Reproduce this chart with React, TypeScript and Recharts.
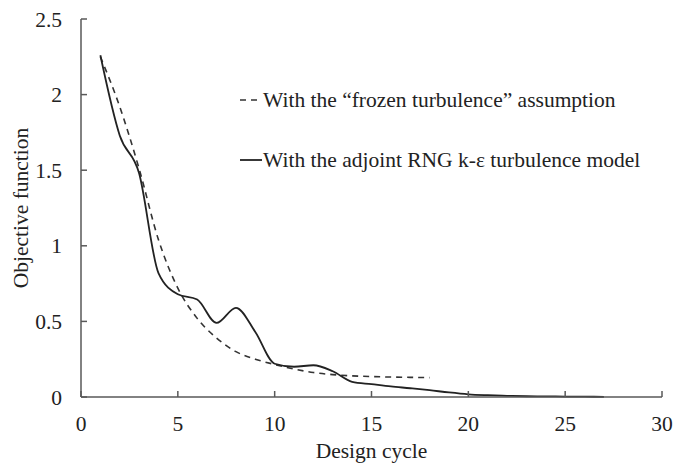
import React from 'react';
import {
  LineChart,
  Line,
  XAxis,
  YAxis,
  Legend,
} from 'recharts';

// design cycle values
const frozenCycles = [1, 2, 3, 4, 5, 6, 7, 8, 9, 10, 11, 12, 13, 14, 15, 16, 17, 18];
const frozenValues = [2.25, 1.92, 1.51, 1.04, 0.72, 0.52, 0.39, 0.3, 0.25, 0.215, 0.185, 0.162, 0.148, 0.14, 0.135, 0.132, 0.13, 0.128];

const adjointCycles = [1, 2, 3, 4, 5, 6, 7, 8, 9, 10, 11, 12, 13, 14, 15, 16, 17, 18, 19, 20, 21, 22, 23, 24, 25, 26, 27];
const adjointValues = [2.26, 1.73, 1.48, 0.82, 0.68, 0.645, 0.49, 0.59, 0.43, 0.22, 0.2, 0.21, 0.17, 0.1, 0.085, 0.07, 0.058, 0.045, 0.03, 0.018, 0.012, 0.008, 0.005, 0.004, 0.003, 0.002, 0.001];

const xTicks = [0, 5, 10, 15, 20, 25, 30];
const yTicks = [0, 0.5, 1, 1.5, 2, 2.5];

const seriesNames = [
  'With the \u201cfrozen turbulence\u201d assumption',
  'With the adjoint RNG k-\u03b5 turbulence model',
];

const frozenData = frozenCycles.map((c, i) => ({ cycle: c, value: frozenValues[i] }));
const adjointData = adjointCycles.map((c, i) => ({ cycle: c, value: adjointValues[i] }));

const FONT = '"Liberation Serif", "Times New Roman", serif';
const FONT_SIZE = 21.5;
const TEXT_COLOR = '#222';
const AXIS_COLOR = '#595959';

const formatY = (v: number) => String(v);

const LegendBox = () => (
  <div style={{ fontFamily: FONT, fontSize: FONT_SIZE, color: TEXT_COLOR, textAlign: 'left' }}>
    <div style={{ display: 'flex', alignItems: 'center', height: 24 }}>
      <svg width={23} height={10}>
        <line x1={0} y1={5} x2={22} y2={5} stroke="#333" strokeWidth={1.6} strokeDasharray="6 5" />
      </svg>
      <span>{seriesNames[0]}</span>
    </div>
    <div style={{ display: 'flex', alignItems: 'center', height: 24, marginTop: 36 }}>
      <svg width={23} height={10}>
        <line x1={0} y1={5} x2={22} y2={5} stroke="#222" strokeWidth={1.8} />
      </svg>
      <span>{seriesNames[1]}</span>
    </div>
  </div>
);

const YLabel = (props: any) => {
  const vb = props.viewBox || { x: 0, y: 0, width: 0, height: 0 };
  const cx = vb.x + 21;
  const cy = vb.y + vb.height / 2;
  return (
    <text
      x={cx}
      y={cy}
      transform={`rotate(-90, ${cx}, ${cy})`}
      textAnchor="middle"
      dominantBaseline="central"
      fontFamily={FONT}
      fontSize={FONT_SIZE}
      fill={TEXT_COLOR}
    >
      Objective function
    </text>
  );
};

const App: React.FC = () => {
  return (
    <div style={{ position: 'absolute', left: 0, top: 0, width: 673, height: 464, background: '#fff' }}>
      <LineChart
        width={673}
        height={464}
        margin={{ top: 19, right: 11, left: 0, bottom: 0 }}
      >
        <XAxis
          type="number"
          dataKey="cycle"
          domain={[0, 30]}
          ticks={xTicks}
          allowDuplicatedCategory={false}
          height={67}
          stroke={AXIS_COLOR}
          strokeWidth={1.5}
          tickSize={-6}
          tickMargin={25}
          tick={{ fontFamily: FONT, fontSize: FONT_SIZE, fill: TEXT_COLOR }}
          label={{
            value: 'Design cycle',
            position: 'insideBottom',
            offset: 6,
            fontFamily: FONT,
            fontSize: FONT_SIZE,
            fill: TEXT_COLOR,
          }}
        />
        <YAxis
          type="number"
          dataKey="value"
          domain={[0, 2.5]}
          ticks={yTicks}
          width={81}
          stroke={AXIS_COLOR}
          strokeWidth={1.5}
          tickSize={-6}
          tickMargin={25}
          tickFormatter={formatY}
          tick={{ fontFamily: FONT, fontSize: FONT_SIZE, fill: TEXT_COLOR }}
          label={<YLabel />}
        />
        <Legend
          layout="horizontal"
          verticalAlign="middle"
          align="center"
          content={<LegendBox />}
          wrapperStyle={{ position: 'absolute', left: 240, top: 88, width: 430 }}
        />
        <Line
          data={frozenData}
          dataKey="value"
          type="monotone"
          stroke="#333"
          strokeWidth={1.6}
          strokeDasharray="6 5"
          dot={false}
          isAnimationActive={false}
        />
        <Line
          data={adjointData}
          dataKey="value"
          type="monotone"
          stroke="#222"
          strokeWidth={1.8}
          dot={false}
          isAnimationActive={false}
        />
      </LineChart>
    </div>
  );
};

export default App;
